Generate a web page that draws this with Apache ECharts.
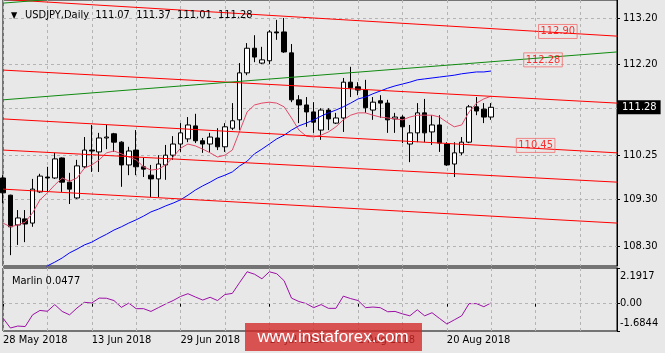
<!DOCTYPE html>
<html>
<head>
<meta charset="utf-8">
<title>USDJPY Daily</title>
<script src="https://cdn.jsdelivr.net/npm/echarts@6/dist/echarts.min.js"></script>
<style>
  html, body { margin: 0; padding: 0; background: #e8e8e8; }
  #main { width: 665px; height: 353px; }
</style>
</head>
<body>
<div id="main"></div>
<script>
// trading days on screen
var dates = [
  '28 May 2018', '29 May 2018', '30 May 2018', '31 May 2018', '1 Jun 2018',
  '4 Jun 2018', '5 Jun 2018', '6 Jun 2018', '7 Jun 2018', '8 Jun 2018',
  '11 Jun 2018', '12 Jun 2018', '13 Jun 2018', '14 Jun 2018', '15 Jun 2018',
  '18 Jun 2018', '19 Jun 2018', '20 Jun 2018', '21 Jun 2018', '22 Jun 2018',
  '25 Jun 2018', '26 Jun 2018', '27 Jun 2018', '28 Jun 2018', '29 Jun 2018',
  '2 Jul 2018', '3 Jul 2018', '4 Jul 2018', '5 Jul 2018', '6 Jul 2018',
  '9 Jul 2018', '10 Jul 2018', '11 Jul 2018', '12 Jul 2018', '13 Jul 2018',
  '16 Jul 2018', '17 Jul 2018', '18 Jul 2018', '19 Jul 2018', '20 Jul 2018',
  '23 Jul 2018', '24 Jul 2018', '25 Jul 2018', '26 Jul 2018', '27 Jul 2018',
  '30 Jul 2018', '31 Jul 2018', '1 Aug 2018', '2 Aug 2018', '3 Aug 2018',
  '6 Aug 2018', '7 Aug 2018', '8 Aug 2018', '9 Aug 2018', '10 Aug 2018',
  '13 Aug 2018', '14 Aug 2018', '15 Aug 2018', '16 Aug 2018', '17 Aug 2018',
  '20 Aug 2018', '21 Aug 2018', '22 Aug 2018', '23 Aug 2018', '24 Aug 2018',
  '27 Aug 2018', '28 Aug 2018'
];
var emptySlots = 17; // free space right of the last bar

// [open, close, low, high]
var ohlc = [
  [109.76, 109.44, 109.22, 109.82], [109.39, 108.71, 108.10, 109.40], [108.75, 108.90, 108.32, 109.07],
  [108.88, 108.77, 108.38, 109.07], [108.79, 109.52, 108.71, 109.74], [109.46, 109.80, 109.44, 109.85],
  [109.78, 109.76, 109.46, 110.00], [109.76, 110.17, 109.74, 110.30], [110.19, 109.67, 109.46, 110.20],
  [109.67, 109.52, 109.20, 109.87], [109.33, 110.02, 109.31, 110.15], [110.00, 110.36, 109.97, 110.64],
  [110.36, 110.34, 109.89, 110.90], [110.32, 110.62, 109.89, 110.73], [110.62, 110.64, 110.38, 110.90],
  [110.71, 110.53, 110.32, 110.73], [110.53, 110.04, 109.57, 110.55], [110.04, 110.34, 109.82, 110.43],
  [110.36, 110.00, 109.82, 110.79], [110.00, 109.95, 109.78, 110.19], [109.82, 109.74, 109.35, 110.04],
  [109.74, 110.06, 109.35, 110.25], [110.04, 110.25, 109.72, 110.47], [110.25, 110.49, 110.15, 110.66],
  [110.49, 110.73, 110.32, 110.94], [110.60, 110.90, 110.53, 111.07], [110.88, 110.56, 110.51, 111.14],
  [110.56, 110.49, 110.30, 110.62], [110.49, 110.64, 110.30, 110.73], [110.62, 110.43, 110.36, 110.83],
  [110.43, 110.86, 110.32, 110.94], [110.83, 110.99, 110.79, 111.37], [111.01, 112.02, 110.79, 112.23],
  [112.02, 112.55, 111.97, 112.66], [112.55, 112.36, 112.25, 112.83], [112.23, 112.30, 112.21, 112.58],
  [112.28, 112.90, 112.21, 112.94], [112.90, 112.88, 112.73, 113.16], [112.90, 112.47, 112.45, 113.20],
  [112.45, 111.44, 111.39, 112.64], [111.44, 111.33, 110.94, 111.54], [111.33, 111.18, 110.86, 111.50],
  [111.18, 110.96, 110.73, 111.39], [110.79, 111.22, 110.58, 111.26], [111.22, 111.03, 110.79, 111.26],
  [110.94, 111.05, 110.92, 111.16], [111.05, 111.82, 110.75, 111.91], [111.82, 111.70, 111.50, 112.15],
  [111.72, 111.65, 111.54, 111.82], [111.65, 111.27, 111.16, 111.87], [111.22, 111.39, 111.01, 111.50],
  [111.42, 111.37, 111.05, 111.54], [111.37, 111.01, 110.73, 111.44], [111.03, 111.07, 110.73, 111.16],
  [111.07, 110.86, 110.51, 111.11], [110.49, 110.73, 110.10, 110.90], [110.73, 111.16, 110.53, 111.37],
  [111.16, 110.73, 110.53, 111.46], [110.75, 110.90, 110.47, 111.11], [110.90, 110.51, 110.32, 111.11],
  [110.49, 110.04, 110.02, 110.53], [110.06, 110.30, 109.78, 110.53], [110.30, 110.53, 110.25, 110.64],
  [110.53, 111.29, 110.51, 111.33], [111.29, 111.20, 111.11, 111.50], [111.24, 111.07, 110.94, 111.37],
  [111.07, 111.28, 111.01, 111.37]
];

// short moving average (thin red)
var fastMa = [
  108.79, 108.71, 108.75, 108.81, 109.01, 109.29, 109.44, 109.61, 109.76, 109.69,
  109.76, 109.97, 110.04, 110.15, 110.30, 110.34, 110.28, 110.21, 110.15, 110.00,
  109.93, 109.95, 110.04, 110.21, 110.40, 110.49, 110.45, 110.38, 110.30, 110.21,
  110.25, 110.36, 110.77, 111.18, 111.33, 111.37, 111.39, 111.37, 111.29, 111.05,
  110.79, 110.66, 110.64, 110.68, 110.75, 110.86, 111.01, 111.11, 111.16, 111.16,
  111.11, 111.07, 111.05, 111.03, 111.01, 111.07, 111.11, 111.11, 111.11, 111.07,
  110.96, 110.86, 110.90, 111.18, 111.37, 111.46, 111.52
];

// long moving average (blue), comes in from below the window
var slowMa = [
  null, null, null, null, null, 107.72, 107.87, 107.95, 108.04, 108.15,
  108.23, 108.32, 108.38, 108.47, 108.55, 108.64, 108.71, 108.79, 108.86, 108.94,
  109.03, 109.09, 109.16, 109.22, 109.29, 109.39, 109.50, 109.59, 109.67, 109.76,
  109.82, 109.89, 110.02, 110.12, 110.28, 110.38, 110.49, 110.60, 110.68, 110.79,
  110.88, 110.94, 111.01, 111.09, 111.16, 111.22, 111.29, 111.37, 111.46, 111.50,
  111.57, 111.63, 111.69, 111.74, 111.78, 111.82, 111.87, 111.89, 111.91, 111.93,
  111.95, 111.97, 112.00, 112.02, 112.04, 112.04, 112.06
];

var marlin = [
  -0.89, -1.50, -1.38, -1.41, -0.69, -0.42, -0.47, -0.06, -0.48, -0.69,
  -0.27, 0.08, 0.04, 0.34, 0.33, 0.19, -0.23, 0.03, -0.31, -0.31,
  -0.48, -0.25, -0.02, 0.19, 0.44, 0.61, 0.41, 0.22, 0.39, 0.19,
  0.56, 0.63, 1.31, 1.96, 1.81, 1.53, 1.96, 1.84, 1.41, 0.34,
  0.13, 0.00, -0.25, -0.06, -0.29, -0.29, 0.46, 0.31, 0.19, -0.25,
  -0.21, -0.25, -0.50, -0.48, -0.63, -0.75, -0.38, -0.75, -0.56, -0.91,
  -1.25, -1.00, -0.75, 0.00, 0.00, -0.19, 0.0477
];

// drawn lines: price at the first and at the last slot of the axis
var redLines = [[113.60, 112.81], [112.08, 111.37], [111.03, 110.30], [110.36, 109.67], [109.52, 108.79]];
var greenLines = [[111.44, 112.47], [113.52, 114.55]];
// price tags on the lines: [slot, price, text]
var lineTags = [[75, 112.91, '112.90'], [73, 112.30, '112.28'], [72, 110.46, '110.45']];

var priceTicks = [113.20, 112.20, 110.25, 109.30, 108.30];
var gridLevels = [113.20, 112.20, 111.25, 110.25, 109.30, 108.30];
var marlinTicks = [2.1917, 0, -1.6844];

var FONT = '"DejaVu Sans Condensed", "DejaVu Sans", sans-serif';
var GRID_LINE = { color: '#b4b4b4', type: [3, 3], width: 1 };

var cats = dates.concat(new Array(emptySlots).fill(''));
var lastSlot = cats.length - 1;
var last = ohlc[ohlc.length - 1];
var header = 'USDJPY,Daily  ' + [last[0], last[3], last[2], last[1]].map(function (v) {
  return v.toFixed(2);
}).join('  ');

var chart = echarts.init(document.getElementById('main'));

// dashed price levels + the black box with the last close
var levelMarks = gridLevels.map(function (v) {
  return { yAxis: v, lineStyle: GRID_LINE, label: { show: false } };
});
levelMarks.push({
  yAxis: last[1],
  lineStyle: { color: 'rgba(0,0,0,0)', width: 1 },
  label: {
    show: true, position: 'end', distance: 1, formatter: last[1].toFixed(2),
    color: '#fff', backgroundColor: '#000', padding: [2, 4, 1, 4],
    fontSize: 11, fontFamily: FONT
  }
});

var series = [
  {
    type: 'candlestick', xAxisIndex: 0, yAxisIndex: 0, data: ohlc, z: 2,
    barWidth: 5,
    itemStyle: { color: '#ffffff', color0: '#000000', borderColor: '#000000', borderColor0: '#000000', borderWidth: 1 },
    markLine: { silent: true, symbol: 'none', z: 1, data: levelMarks }
  },
  {
    type: 'line', xAxisIndex: 0, yAxisIndex: 0, data: slowMa, z: 3,
    symbol: 'none', silent: true, lineStyle: { color: '#0000ff', width: 1 }
  },
  {
    type: 'line', xAxisIndex: 0, yAxisIndex: 0, data: fastMa, z: 3,
    symbol: 'none', silent: true, lineStyle: { color: '#e24a68', width: 1 }
  }
];

redLines.forEach(function (p) {
  series.push({
    type: 'line', xAxisIndex: 0, yAxisIndex: 0, z: 4, symbol: 'none', silent: true,
    data: [[0, p[0]], [lastSlot, p[1]]],
    lineStyle: { color: '#ff0000', width: 1 }
  });
});
greenLines.forEach(function (p) {
  series.push({
    type: 'line', xAxisIndex: 0, yAxisIndex: 0, z: 4, symbol: 'none', silent: true,
    data: [[0, p[0]], [lastSlot, p[1]]],
    lineStyle: { color: '#108a10', width: 1 }
  });
});

series.push({
  type: 'scatter', xAxisIndex: 0, yAxisIndex: 0, z: 5, silent: true,
  symbolSize: 0,
  data: lineTags.map(function (t) { return [t[0], t[1]]; }),
  label: {
    show: true, position: 'inside',
    formatter: function (p) { return lineTags[p.dataIndex][2]; },
    color: '#ff0000', fontSize: 11, fontFamily: FONT,
    borderColor: '#f26d6d', borderWidth: 1, padding: [2, 2, 1, 2]
  }
});

series.push({
  type: 'line', xAxisIndex: 1, yAxisIndex: 1, data: marlin, z: 3,
  symbol: 'none', silent: true, lineStyle: { color: '#9c0fa6', width: 1 },
  markLine: {
    silent: true, symbol: 'none', label: { show: false },
    lineStyle: GRID_LINE,
    data: [{ yAxis: 0 }]
  }
});

chart.setOption({
  backgroundColor: '#e8e8e8',
  animation: false,
  title: [
    { text: '▼', left: 6, top: 6, textStyle: { fontSize: 9, fontWeight: 'normal', color: '#000', fontFamily: FONT } },
    { text: header, left: 20, top: 5, textStyle: { fontSize: 11, fontWeight: 'normal', color: '#000', fontFamily: FONT } },
    { text: 'Marlin ' + marlin[marlin.length - 1], left: 7, top: 271, textStyle: { fontSize: 11, fontWeight: 'normal', color: '#000', fontFamily: FONT } }
  ],
  grid: [
    { left: 3, right: 48, top: 0, height: 266, show: true, borderColor: '#000', borderWidth: 1, backgroundColor: 'transparent' },
    { left: 3, right: 48, top: 268, height: 63, show: true, borderColor: '#000', borderWidth: 1, backgroundColor: 'transparent' }
  ],
  xAxis: [
    {
      type: 'category', gridIndex: 0, data: cats, boundaryGap: false,
      axisLine: { show: false }, axisTick: { show: false }, axisLabel: { show: false },
      splitLine: { show: true, interval: 5, lineStyle: GRID_LINE }
    },
    {
      type: 'category', gridIndex: 1, data: cats, boundaryGap: false,
      axisLine: { show: false },
      axisTick: { show: true, interval: 11, length: 3, lineStyle: { color: '#000' } },
      axisLabel: { show: true, interval: 11, align: 'left', margin: 4, color: '#000', fontSize: 11, fontFamily: FONT },
      splitLine: { show: true, interval: 5, lineStyle: GRID_LINE }
    }
  ],
  yAxis: [
    {
      type: 'value', gridIndex: 0, position: 'right', min: 107.867, max: 113.587, scale: true,
      splitLine: { show: false },
      axisLine: { show: true, lineStyle: { color: '#000' } },
      axisTick: { show: true, customValues: priceTicks, length: 3, lineStyle: { color: '#000' } },
      axisLabel: {
        customValues: priceTicks, margin: 6, color: '#000', fontSize: 11, fontFamily: FONT,
        formatter: function (v) { return v.toFixed(2); }
      }
    },
    {
      type: 'value', gridIndex: 1, position: 'right', min: marlinTicks[2], max: marlinTicks[0], scale: true,
      splitLine: { show: false },
      axisLine: { show: true, lineStyle: { color: '#000' } },
      axisTick: { show: true, customValues: marlinTicks, length: 3, lineStyle: { color: '#000' } },
      axisLabel: {
        customValues: marlinTicks, margin: 3, color: '#000', fontSize: 11, fontFamily: FONT,
        formatter: function (v) {
          if (v === marlinTicks[0]) return '{top|' + v + '}';
          if (v === marlinTicks[2]) return '{bot|' + v + '}';
          return '0.00';
        },
        rich: {
          top: { padding: [16, 0, 0, 0], fontSize: 11, fontFamily: FONT, color: '#000' },
          bot: { padding: [0, 0, 16, 0], fontSize: 11, fontFamily: FONT, color: '#000' }
        }
      }
    }
  ],
  series: series,
  graphic: [
    {
      type: 'rect', left: 245, top: 323, z: 100, silent: true,
      shape: { width: 177, height: 28 },
      style: { fill: 'rgba(212, 40, 40, 0.78)' }
    },
    {
      type: 'text', x: 333, y: 337, z: 101, silent: true,
      style: {
        text: 'www.instaforex.com', fill: '#ffffff',
        font: '17px "Liberation Sans", Arial, sans-serif',
        align: 'center', verticalAlign: 'middle'
      }
    }
  ]
});
</script>
</body>
</html>
